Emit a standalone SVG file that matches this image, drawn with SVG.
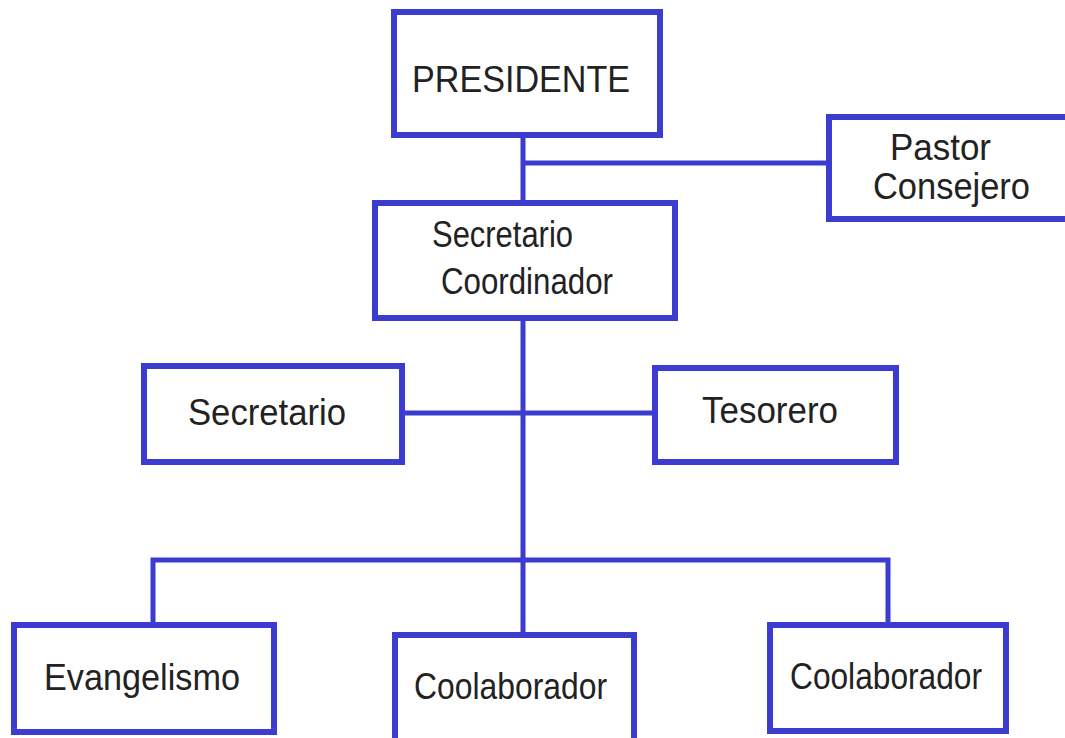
<svg xmlns="http://www.w3.org/2000/svg" width="1065" height="738" viewBox="0 0 1065 738">
<style>
.box{fill:#fff;stroke:#3c3cd0;stroke-width:6}
.ln{stroke:#3c3cd0;stroke-width:5;fill:none;stroke-linecap:square}
.t{font-family:"Liberation Sans",Arial,sans-serif;font-size:37px;fill:#222}
</style>
<rect width="1065" height="738" fill="#fff"/>
<g id="connectors">
<path class="ln" d="M523,137 V200 M523,163 H826 M523,320 V560 M404,413 H653 M153,623 V560 H888 V623 M523,560 V632"/>
</g>
<g id="presidente">
<rect class="box" x="394" y="12" width="266" height="123"/>
<text class="t" x="412" y="92" font-size="41" textLength="218" lengthAdjust="spacingAndGlyphs">PRESIDENTE</text>
</g>
<g id="pastor">
<rect class="box" x="829" y="117" width="250" height="102"/>
<text class="t" x="890" y="160" textLength="101" lengthAdjust="spacingAndGlyphs">Pastor</text>
<text class="t" x="873" y="199" textLength="157" lengthAdjust="spacingAndGlyphs">Consejero</text>
</g>
<g id="coordinador">
<rect class="box" x="375" y="203" width="300" height="115"/>
<text class="t" x="432" y="247" textLength="141" lengthAdjust="spacingAndGlyphs">Secretario</text>
<text class="t" x="441" y="294" textLength="172" lengthAdjust="spacingAndGlyphs">Coordinador</text>
</g>
<g id="secretario">
<rect class="box" x="144" y="366" width="258" height="96"/>
<text class="t" x="188" y="425" textLength="158" lengthAdjust="spacingAndGlyphs">Secretario</text>
</g>
<g id="tesorero">
<rect class="box" x="655" y="368" width="241" height="94"/>
<text class="t" x="702" y="423" textLength="136" lengthAdjust="spacingAndGlyphs">Tesorero</text>
</g>
<g id="evangelismo">
<rect class="box" x="14" y="625" width="260" height="107"/>
<text class="t" x="44" y="690" textLength="196" lengthAdjust="spacingAndGlyphs">Evangelismo</text>
</g>
<g id="coolaborador1">
<rect class="box" x="395" y="635" width="239" height="106"/>
<text class="t" x="414" y="699" textLength="193" lengthAdjust="spacingAndGlyphs">Coolaborador</text>
</g>
<g id="coolaborador2">
<rect class="box" x="770" y="625" width="236" height="106"/>
<text class="t" x="790" y="689" textLength="192" lengthAdjust="spacingAndGlyphs">Coolaborador</text>
</g>
</svg>
